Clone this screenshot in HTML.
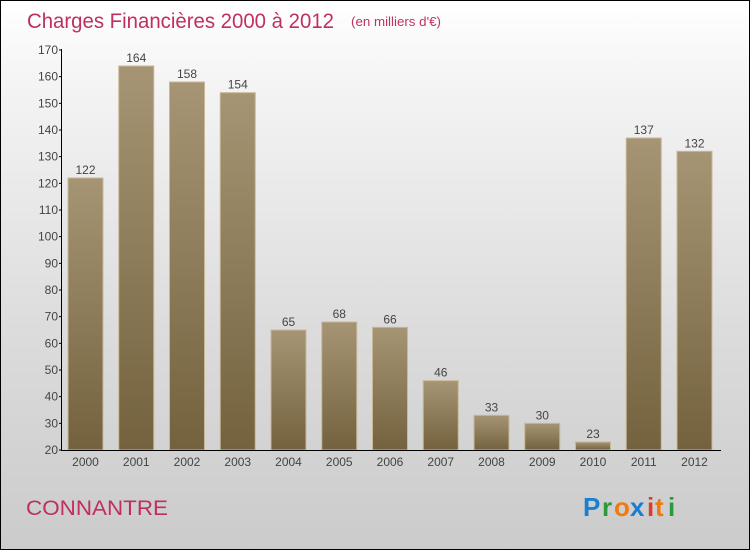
<!DOCTYPE html>
<html><head><meta charset="utf-8"><style>
body{margin:0}
#c{width:748px;height:548px;border:1px solid #000;background:linear-gradient(#fff,#f4f4f4 15%,#dcdcdc 60%,#cbcbcb);position:relative;font-family:"Liberation Sans",sans-serif}
</style></head><body>
<div id="c">
<svg width="748" height="548">
<defs>
<linearGradient id="g" x1="0" y1="0" x2="0" y2="1"><stop offset="0" stop-color="#a69574"/><stop offset="1" stop-color="#74623e"/></linearGradient>
</defs>
<text x="26" y="27" font-size="21" fill="#c0305f" textLength="307" lengthAdjust="spacingAndGlyphs">Charges Financières 2000 à 2012</text>
<text x="350" y="25" font-size="13" fill="#c0305f" textLength="90" lengthAdjust="spacingAndGlyphs">(en milliers d'€)</text>
<text x="25" y="514" font-size="21" fill="#c0305f" textLength="142" lengthAdjust="spacingAndGlyphs">CONNANTRE</text>
<g font-size="26" font-weight="bold">
<text x="582" y="515" fill="#1a7fd0">P</text><text x="601" y="515" fill="#2a9a3a">r</text><text x="613" y="515" fill="#f07a10">o</text><text x="629" y="515" fill="#1a7fd0">x</text><text x="646" y="515" fill="#e03a2a">i</text><text x="654" y="515" fill="#f07a10">t</text><text x="667" y="515" fill="#2a9a3a">i</text>
</g>
<g id="plot"></g>
</svg>
</div>
<script>
const years=["2000","2001","2002","2003","2004","2005","2006","2007","2008","2009","2010","2011","2012"];
const values=[122,164,158,154,65,68,66,46,33,30,23,137,132];
const yTicks=[20,30,40,50,60,70,80,90,100,110,120,130,140,150,160,170];
const NS="http://www.w3.org/2000/svg";
const g=document.getElementById('plot');
const y=v=>449-(v-20)*(400/150);
const x=i=>67+i*50.75;
function mk(t,a){const e=document.createElementNS(NS,t);for(const k in a)e.setAttribute(k,a[k]);g.appendChild(e);return e;}
values.forEach((v,i)=>{
 const r=mk('rect',{x:x(i),y:y(v),width:35,height:449-y(v),fill:'url(#g)',stroke:'#c8b898','stroke-width':1});
 
 
 const t=mk('text',{x:x(i)+17.5,y:y(v)-4,'text-anchor':'middle','font-size':12,fill:'#444'});
 t.textContent=v;
 
 
 const l=mk('text',{x:x(i)+17.5,y:465,'text-anchor':'middle','font-size':12,fill:'#444'});
 l.textContent=years[i];
 
 
});
yTicks.forEach(v=>{
 const tk=mk('line',{x1:58,x2:61,y1:y(v),y2:y(v),stroke:'#000'});
 
 
 const t=mk('text',{x:57,y:y(v)+4,'text-anchor':'end','font-size':12,fill:'#444'});
 t.textContent=v;
 
 
});
const ya=mk('line',{x1:60.5,x2:60.5,y1:48,y2:450,stroke:'#000'});


const xa=mk('line',{x1:60,x2:720,y1:449.5,y2:449.5,stroke:'#000'});


</script>
</body></html>
